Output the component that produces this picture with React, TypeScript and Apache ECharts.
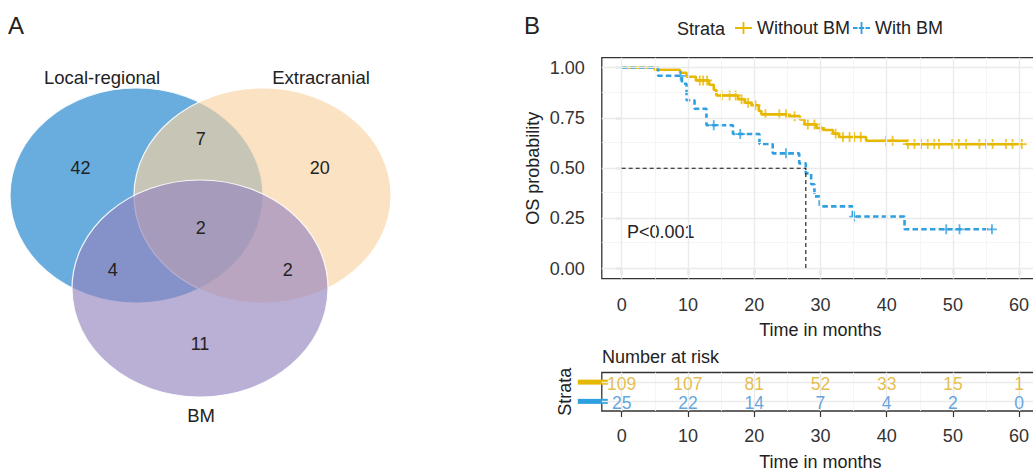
import React, { useEffect, useRef } from 'react';
import * as echarts from 'echarts';

const FONT = '"Liberation Sans", Arial, Helvetica, sans-serif';

// ---------- Panel B data (Kaplan-Meier) ----------
const groupNames = ['Without BM', 'With BM'];
const groupColors = ['#E7B800', '#2E9FDF'];
const riskTextColors = ['#DDAE22', '#3C8DD8'];

const withoutTime = [0, 5.0, 8.8, 9.8, 11.2, 13.2, 13.9, 14.3, 17.6, 18.6, 19.6, 20.7, 21.1, 25.1, 26.9, 27.6, 29.4, 30.4, 31.9, 32.8, 36.9, 43.0, 60.4];
const withoutSurv = [1.0, 0.99, 0.975, 0.955, 0.937, 0.915, 0.889, 0.862, 0.843, 0.826, 0.813, 0.785, 0.768, 0.759, 0.743, 0.718, 0.7, 0.69, 0.672, 0.655, 0.637, 0.62, 0.62];
const withoutCensor = [11.8, 12.3, 12.9, 15.1, 16.3, 17.2, 18.1, 19.1, 20.2, 21.7, 23.8, 24.8, 26.1, 28.1, 29.1, 30.0, 32.3, 33.4, 34.4, 35.1, 36.1, 39.9, 40.9, 43.2, 44.2, 45.2, 46.2, 47.2, 47.9, 49.9, 50.9, 52.0, 54.0, 55.0, 56.0, 58.0, 59.0, 60.4];

const withTime = [0, 5.5, 9.1, 9.8, 11.0, 12.8, 16.8, 20.8, 22.8, 26.8, 27.8, 28.6, 29.1, 29.9, 34.9, 42.7, 55.9];
const withSurv = [1.0, 0.96, 0.92, 0.838, 0.796, 0.714, 0.67, 0.621, 0.574, 0.524, 0.474, 0.42, 0.36, 0.31, 0.259, 0.196, 0.196];
const withCensor = [8.9, 13.9, 17.9, 24.8, 35.1, 49.0, 51.0, 55.9];

const riskTimes = [0, 10, 20, 30, 40, 50, 60];
const riskWithout = [109, 107, 81, 52, 33, 15, 1];
const riskWith = [25, 22, 14, 7, 4, 2, 0];

const xTicks = [0, 10, 20, 30, 40, 50, 60];
const xMinorTicks = [5, 15, 25, 35, 45, 55];
const yTicks = [0, 0.25, 0.5, 0.75, 1.0];
const yMinorTicks = [0.125, 0.375, 0.625, 0.875];

const pValueText = 'P<0.001';

// ---------- Panel A data (Venn) ----------
const vennSetNames = ['Local-regional', 'Extracranial', 'BM'];
// regions: LR only, EC only, BM only, LR&EC, LR&BM, EC&BM, all three
const vennRegionCounts = [42, 20, 11, 7, 4, 2, 2];

// ---------- layout (positions / styles) ----------
const vennEllipses = [
  { cx: 136.5, cy: 195.5, rx: 126.5, ry: 107.5, fill: 'rgba(23,129,203,0.65)' },
  { cx: 262.5, cy: 195.5, rx: 128.5, ry: 107.5, fill: 'rgba(249,210,161,0.65)' },
  { cx: 200, cy: 288.5, rx: 128, ry: 108.5, fill: 'rgba(149,132,191,0.65)' },
];
const vennSetLabelPos = [[102, 77], [321, 77], [201, 415]];
const vennRegionPos = [[80.5, 167.5], [319.7, 167.5], [200, 343.7], [200.8, 139], [112.8, 269.7], [287.8, 269.7], [200.8, 228]];

const mainGrid = { left: 601.8, top: 57.7, width: 437.2, height: 221 };
const riskGrid = { left: 601.8, top: 372.5, width: 437.2, height: 38.5 };

const plusSymbol = 'path://M4.1,0H5.9V4.1H10V5.9H5.9V10H4.1V5.9H0V4.1H4.1Z';
const legendIconSolid = 'path://M0,5H17V7H0Z M7.6,0H9.4V12H7.6Z';
const legendIconDashed = 'path://M0,5H4.5V7H0Z M5.8,5H11.2V7H5.8Z M7.6,0H9.4V12H7.6Z M12.5,5H17V7H12.5Z';

function survAt(times: number[], surv: number[], t: number) {
  let s = surv[0];
  for (let i = 0; i < times.length; i++) if (times[i] <= t) s = surv[i];
  return s;
}
function medianTime(times: number[], surv: number[]) {
  for (let i = 0; i < times.length; i++) if (surv[i] <= 0.5) return times[i];
  return null;
}

function gridMarkLines(xs: number[], xm: number[], ys: number[], ym: number[]) {
  const major = { color: '#EBEBEB', width: 1.4, type: 'solid' };
  const minor = { color: '#F4F4F4', width: 0.9, type: 'solid' };
  return {
    symbol: ['none', 'none'],
    silent: true,
    label: { show: false },
    emphasis: { disabled: true },
    data: [
      ...xm.map((v) => ({ xAxis: v, lineStyle: minor })),
      ...ym.map((v) => ({ yAxis: v, lineStyle: minor })),
      ...xs.map((v) => ({ xAxis: v, lineStyle: major })),
      ...ys.map((v) => ({ yAxis: v, lineStyle: major })),
    ],
  };
}

export default function App() {
  const ref = useRef<HTMLDivElement>(null);

  useEffect(() => {
    if (!ref.current) return;
    const chart = echarts.init(ref.current, undefined, { renderer: 'svg' });

    const med = medianTime(withTime, withSurv);
    const textColor = '#222';
    const tickColor = '#333';

    const axisCommonX = (gridIndex: number, nameGap: number, margin: number) => ({
      type: 'value',
      gridIndex,
      min: -3,
      max: 63,
      axisLine: { show: false },
      axisTick: { show: true, customValues: xTicks, length: 6, lineStyle: { color: tickColor, width: 1.2 } },
      axisLabel: { customValues: xTicks, fontSize: 18, color: tickColor, margin, fontFamily: FONT, formatter: (v: number) => String(v) },
      splitLine: { show: false },
      name: 'Time in months',
      nameLocation: 'middle',
      nameGap,
      nameTextStyle: { fontSize: 18, color: textColor, fontFamily: FONT },
    });

    const graphics: any[] = [];
    vennEllipses.forEach((e) => {
      graphics.push({
        type: 'ellipse',
        shape: { cx: e.cx, cy: e.cy, rx: e.rx, ry: e.ry },
        style: { fill: e.fill, stroke: 'rgba(255,255,255,0.9)', lineWidth: 1.2 },
        silent: true,
      });
    });
    vennSetNames.forEach((n, i) => {
      graphics.push({
        type: 'text', x: vennSetLabelPos[i][0], y: vennSetLabelPos[i][1],
        style: { text: n, align: 'center', verticalAlign: 'middle', fontSize: 18.5, fill: textColor, fontFamily: FONT },
      });
    });
    vennRegionCounts.forEach((c, i) => {
      graphics.push({
        type: 'text', x: vennRegionPos[i][0], y: vennRegionPos[i][1],
        style: { text: String(c), align: 'center', verticalAlign: 'middle', fontSize: 18, fill: textColor, fontFamily: FONT },
      });
    });
    graphics.push(
      { type: 'text', x: 8, y: 25, style: { text: 'A', verticalAlign: 'middle', fontSize: 24, fill: textColor, fontFamily: FONT } },
      { type: 'text', x: 524, y: 25, style: { text: 'B', verticalAlign: 'middle', fontSize: 24, fill: textColor, fontFamily: FONT } },
      { type: 'text', x: 677, y: 28.5, style: { text: 'Strata', verticalAlign: 'middle', fontSize: 18, fill: textColor, fontFamily: FONT } },
      { type: 'text', x: 627, y: 232, style: { text: pValueText, verticalAlign: 'middle', fontSize: 18, fill: textColor, fontFamily: FONT } },
      { type: 'text', x: 602, y: 357, style: { text: 'Number at risk', verticalAlign: 'middle', fontSize: 18, fill: textColor, fontFamily: FONT } },
    );

    const option: any = {
      animation: false,
      textStyle: { fontFamily: FONT },
      legend: {
        left: 735,
        top: 19,
        padding: 0,
        itemWidth: 17,
        itemHeight: 12,
        itemGap: 3,
        selectedMode: false,
        textStyle: { fontSize: 18, color: textColor, fontFamily: FONT },
        data: [
          { name: groupNames[0], icon: legendIconSolid },
          { name: groupNames[1], icon: legendIconDashed },
        ],
      },
      grid: [
        { ...mainGrid, show: true, borderColor: '#333', borderWidth: 1.3, backgroundColor: 'transparent', containLabel: false, outerBoundsMode: 'none' },
        { ...riskGrid, show: true, borderColor: '#333', borderWidth: 1.3, backgroundColor: 'transparent', containLabel: false, outerBoundsMode: 'none' },
      ],
      xAxis: [axisCommonX(0, 42, 17), axisCommonX(1, 41.5, 16)],
      yAxis: [
        {
          type: 'value',
          gridIndex: 0,
          min: -0.05,
          max: 1.05,
          axisLine: { show: false },
          axisTick: { show: true, customValues: yTicks, length: 6, lineStyle: { color: tickColor, width: 1.2 } },
          axisLabel: { customValues: yTicks, fontSize: 18, color: tickColor, margin: 17, fontFamily: FONT, formatter: (v: number) => v.toFixed(2) },
          splitLine: { show: false },
          name: 'OS probability',
          nameLocation: 'middle',
          nameRotate: 90,
          nameGap: 60,
          nameTextStyle: { fontSize: 18, color: textColor, fontFamily: FONT },
        },
        {
          type: 'category',
          gridIndex: 1,
          data: ['With BM', 'Without BM'],
          axisLine: { show: false },
          axisTick: { show: false },
          splitLine: { show: false },
          axisLabel: {
            margin: -6,
            formatter: (v: string) => (v === groupNames[0] ? '{a| }' : '{b| }'),
            rich: {
              a: { width: 30, height: 5, backgroundColor: groupColors[0] },
              b: { width: 30, height: 5, backgroundColor: groupColors[1] },
            },
          },
          name: 'Strata',
          nameLocation: 'middle',
          nameRotate: 90,
          nameGap: 28,
          nameTextStyle: { fontSize: 18, color: textColor, fontFamily: FONT },
        },
      ],
      graphic: graphics,
      series: [
        {
          name: 'gridlines-main',
          type: 'line',
          xAxisIndex: 0,
          yAxisIndex: 0,
          data: [],
          silent: true,
          markLine: gridMarkLines(xTicks, xMinorTicks, yTicks, yMinorTicks),
        },
        {
          name: 'gridlines-risk',
          type: 'line',
          xAxisIndex: 1,
          yAxisIndex: 1,
          data: [],
          silent: true,
          markLine: gridMarkLines(xTicks, xMinorTicks, [0, 1], []),
        },
        {
          name: groupNames[0],
          type: 'line',
          xAxisIndex: 0,
          yAxisIndex: 0,
          step: 'end',
          symbol: 'none',
          color: groupColors[0],
          lineStyle: { color: groupColors[0], width: 2.6 },
          data: withoutTime.map((t, i) => [t, withoutSurv[i]]),
          z: 3,
        },
        {
          name: groupNames[1],
          type: 'line',
          xAxisIndex: 0,
          yAxisIndex: 0,
          step: 'end',
          symbol: 'none',
          color: groupColors[1],
          lineStyle: { color: groupColors[1], width: 2.6, type: [5.5, 3.2] },
          data: withTime.map((t, i) => [t, withSurv[i]]),
          z: 4,
        },
        {
          name: 'censor-without',
          type: 'scatter',
          xAxisIndex: 0,
          yAxisIndex: 0,
          symbol: plusSymbol,
          symbolSize: 10,
          itemStyle: { color: groupColors[0] },
          data: withoutCensor.map((t) => [t, survAt(withoutTime, withoutSurv, t)]),
          z: 3,
        },
        {
          name: 'censor-with',
          type: 'scatter',
          xAxisIndex: 0,
          yAxisIndex: 0,
          symbol: plusSymbol,
          symbolSize: 10,
          itemStyle: { color: groupColors[1] },
          data: withCensor.map((t) => [t, survAt(withTime, withSurv, t)]),
          z: 4,
        },
        {
          name: 'median',
          type: 'line',
          xAxisIndex: 0,
          yAxisIndex: 0,
          symbol: 'none',
          lineStyle: { color: '#111', width: 1.1, type: [4, 3] },
          data: med === null ? [] : [[0, 0.5], [med, 0.5], [med, 0]],
          z: 5,
        },
        ...[riskWithout, riskWith].map((counts, gi) => ({
          name: 'risk-' + gi,
          type: 'scatter',
          xAxisIndex: 1,
          yAxisIndex: 1,
          symbol: 'circle',
          symbolSize: 1,
          itemStyle: { color: 'rgba(0,0,0,0)' },
          label: {
            show: true,
            position: 'inside',
            formatter: (p: any) => String(p.value[2]),
            color: riskTextColors[gi],
            fontSize: 17.5,
            fontFamily: FONT,
            offset: [0, 1.5],
          },
          data: riskTimes.map((t, i) => [t, groupNames[gi], counts[i]]),
          z: 5,
        })),
      ],
    };

    chart.setOption(option);
    return () => chart.dispose();
  }, []);

  return (
    <div
      ref={ref}
      style={{ position: 'fixed', left: 0, top: 0, width: 1033, height: 471, background: '#fff' }}
    />
  );
}
